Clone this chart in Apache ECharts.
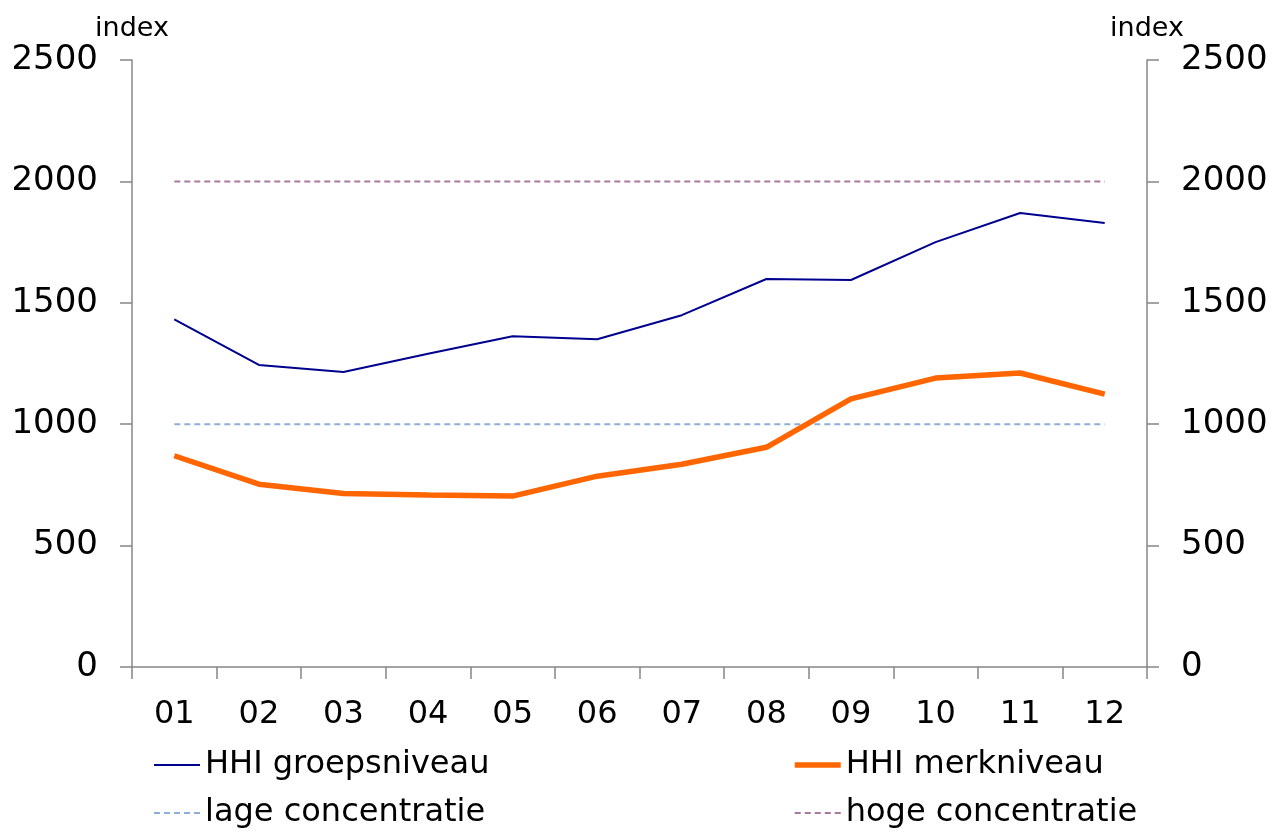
<!DOCTYPE html>
<html>
<head>
<meta charset="utf-8">
<script src="https://cdn.jsdelivr.net/npm/echarts@6/dist/echarts.min.js"></script>
<style>
  html, body { margin: 0; padding: 0; background: #fff; }
  #hhi-chart { width: 1280px; height: 836px; }
</style>
</head>
<body>
<div id="hhi-chart"></div>
<script>
// jaren (2001 t/m 2012)
const years = ['01', '02', '03', '04', '05', '06', '07', '08', '09', '10', '11', '12'];
const groepsniveau = [1432, 1244, 1215, 1290, 1362, 1350, 1449, 1598, 1594, 1750, 1870, 1829];
const merkniveau = [870, 753, 715, 708, 704, 786, 835, 905, 1104, 1190, 1211, 1124];
const lageConcentratie = [1000, 1000, 1000, 1000, 1000, 1000, 1000, 1000, 1000, 1000, 1000, 1000];
const hogeConcentratie = [2000, 2000, 2000, 2000, 2000, 2000, 2000, 2000, 2000, 2000, 2000, 2000];

const font = 'Verdana, "DejaVu Sans", sans-serif';
const axisColor = '#868686';

const chart = echarts.init(document.getElementById('hhi-chart'));

function yAxis(pos) {
  return {
    type: 'value',
    position: pos,
    min: 0,
    max: 2500,
    interval: 500,
    name: 'index',
    nameLocation: 'end',
    nameGap: 18,
    nameTextStyle: { color: '#000', fontFamily: font, fontSize: 27 },
    axisLine: { show: true, lineStyle: { color: axisColor, width: 1.5 } },
    axisTick: { show: true, length: 12, lineStyle: { color: axisColor, width: 1.5 } },
    axisLabel: {
      color: '#000', fontFamily: font, fontSize: 34, margin: 34,
      formatter: v => String(v)
    },
    splitLine: { show: false }
  };
}

// twee kolommen legenda, elk met twee regels
function legendCol(x, items) {
  return {
    left: x,
    top: 747,
    height: 100,
    padding: 0,
    orient: 'vertical',
    itemWidth: 46,
    itemHeight: 14,
    itemGap: 12,
    itemStyle: { opacity: 0 },
    data: items,
    textStyle: { color: '#000', fontFamily: font, fontSize: 32, lineHeight: 36 }
  };
}

chart.setOption({
  animation: false,
  backgroundColor: '#fff',
  grid: { left: 132, right: 133, top: 60, bottom: 169 },
  legend: [
    legendCol(153, [
      { name: 'HHI groepsniveau', lineStyle: { width: 2 } },
      { name: 'lage concentratie', lineStyle: { width: 2 } }
    ]),
    legendCol(792, [
      { name: 'HHI merkniveau', lineStyle: { width: 5.5 } },
      { name: 'hoge concentratie', lineStyle: { width: 2 } }
    ])
  ],
  xAxis: {
    type: 'category',
    data: years,
    boundaryGap: true,
    axisLine: { lineStyle: { color: axisColor, width: 1.5 } },
    axisTick: { show: true, length: 12, lineStyle: { color: axisColor, width: 1.5 } },
    axisLabel: { color: '#000', fontFamily: font, fontSize: 32, margin: 32, interval: 0 }
  },
  yAxis: [yAxis('left'), yAxis('right')],
  series: [
    {
      name: 'lage concentratie',
      type: 'line',
      data: lageConcentratie,
      symbol: 'none',
      color: '#8eaed8',
      lineStyle: { color: '#8eaed8', width: 2, type: [6, 4] }
    },
    {
      name: 'hoge concentratie',
      type: 'line',
      data: hogeConcentratie,
      symbol: 'none',
      color: '#a9789e',
      lineStyle: { color: '#a9789e', width: 2, type: [6, 4] }
    },
    {
      name: 'HHI groepsniveau',
      type: 'line',
      data: groepsniveau,
      symbol: 'none',
      color: '#00008f',
      lineStyle: { color: '#00008f', width: 2 }
    },
    {
      name: 'HHI merkniveau',
      type: 'line',
      data: merkniveau,
      symbol: 'none',
      color: '#ff6600',
      lineStyle: { color: '#ff6600', width: 5.5 }
    }
  ]
});
</script>
</body>
</html>
